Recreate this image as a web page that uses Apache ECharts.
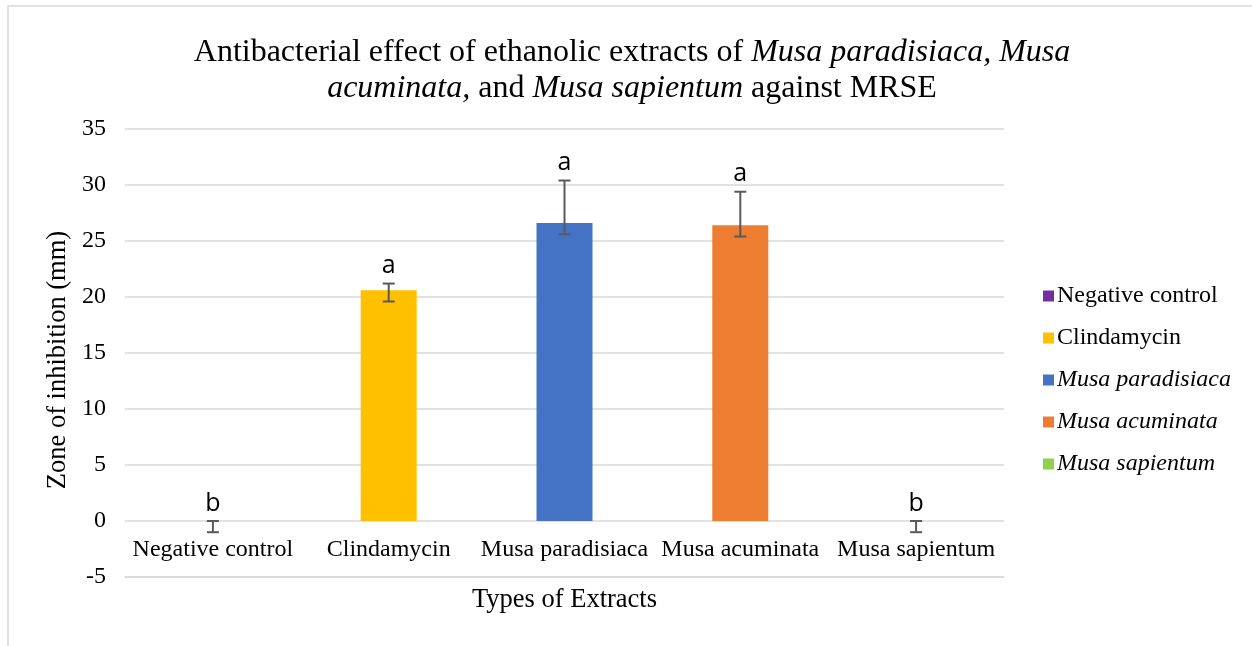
<!DOCTYPE html>
<html>
<head>
<meta charset="utf-8">
<script src="https://cdn.jsdelivr.net/npm/echarts@6/dist/echarts.min.js"></script>
<style>
  html, body { margin: 0; padding: 0; background: #fff; }
  #chart { width: 1252px; height: 646px; }
</style>
</head>
<body>
<div id="chart"></div>
<script>
  // values
  var categories = ['Negative control', 'Clindamycin', 'Musa paradisiaca', 'Musa acuminata', 'Musa sapientum']
  var means = [0, 20.6, 26.6, 26.4, 0]
  var upper = [0, 21.2, 30.4, 29.4, 0]
  var lower = [-1.0, 19.6, 25.6, 25.4, -1.0]
  var letters = ['b', 'a', 'a', 'a', 'b']
  var colors = ['#7030A0', '#FFC000', '#4472C4', '#ED7D31', '#92D050']
  var italicNames = ['Musa paradisiaca', 'Musa acuminata', 'Musa sapientum']

  var serif = '"Liberation Serif", "Times New Roman", serif'
  var sans = '"Open Sans", "Liberation Sans", sans-serif'

  var chart = echarts.init(document.getElementById('chart'))

  var barSeries = categories.map(function (name, i) {
    return {
      name: name,
      type: 'bar',
      barWidth: 56,
      barGap: '-100%',
      itemStyle: { color: colors[i] },
      data: categories.map(function (c, j) { return j === i ? means[j] : null })
    }
  })

  var errorSeries = {
    type: 'custom',
    name: 'error',
    z: 10,
    data: categories.map(function (c, i) { return [i, upper[i], lower[i], letters[i]] }),
    renderItem: function (params, api) {
      var x = api.coord([api.value(0), 0])[0]
      var hi = api.coord([api.value(0), api.value(1)])[1]
      var lo = api.coord([api.value(0), api.value(2)])[1]
      var cap = 6
      var style = { stroke: '#595959', lineWidth: 2 }
      return {
        type: 'group',
        children: [
          { type: 'line', shape: { x1: x, y1: hi, x2: x, y2: lo }, style: style },
          { type: 'line', shape: { x1: x - cap, y1: hi, x2: x + cap, y2: hi }, style: style },
          { type: 'line', shape: { x1: x - cap, y1: lo, x2: x + cap, y2: lo }, style: style },
          {
            type: 'text',
            style: {
              text: api.value(3),
              x: x,
              y: hi - 5,
              align: 'center',
              verticalAlign: 'bottom',
              font: '25px ' + sans,
              fill: '#000'
            }
          }
        ]
      }
    }
  }

  chart.setOption({
    animation: false,
    backgroundColor: '#fff',
    graphic: [
      {
        type: 'rect',
        shape: { x: 8, y: 6, width: 1260, height: 660 },
        style: { fill: 'none', stroke: '#d9d9d9', lineWidth: 1.5 },
        silent: true
      }
    ],
    title: {
      text: 'Antibacterial effect of ethanolic extracts of {i|Musa paradisiaca, Musa}\n{i|acuminata,} and {i|Musa sapientum} against MRSE',
      left: 627,
      textAlign: 'center',
      top: 30,
      textStyle: {
        fontFamily: serif,
        fontSize: 32,
        fontWeight: 'normal',
        color: '#000',
        lineHeight: 36,
        rich: {
          i: { fontFamily: serif, fontSize: 32, fontStyle: 'italic', color: '#000', lineHeight: 36 }
        }
      }
    },
    legend: {
      orient: 'vertical',
      left: 1038,
      top: 279,
      itemWidth: 11,
      itemHeight: 11,
      itemGap: 18,
      icon: 'rect',
      data: categories,
      formatter: function (name) {
        return italicNames.indexOf(name) >= 0 ? '{i|' + name + '}' : name
      },
      textStyle: {
        fontFamily: serif,
        fontSize: 24,
        color: '#000',
        padding: [0, 0, 0, -2],
        rich: {
          i: { fontFamily: serif, fontSize: 24, fontStyle: 'italic', color: '#000' }
        }
      }
    },
    grid: { left: 125, right: 248, top: 129, bottom: 69, outerBoundsMode: 'none', containLabel: false },
    xAxis: {
      type: 'category',
      data: categories,
      name: 'Types of Extracts',
      nameLocation: 'middle',
      nameGap: 10,
      nameTextStyle: { fontFamily: serif, fontSize: 26.5, color: '#000', verticalAlign: 'top' },
      axisLine: { show: true, onZero: false, lineStyle: { color: '#d9d9d9', width: 1.5 } },
      axisTick: { show: false },
      // labels sit just under the zero line, as in the source chart
      axisLabel: { fontFamily: serif, fontSize: 24, color: '#000', margin: -39, interval: 0 },
      splitLine: { show: false }
    },
    yAxis: {
      type: 'value',
      min: -5,
      max: 35,
      interval: 5,
      name: 'Zone of inhibition (mm)',
      nameLocation: 'middle',
      nameGap: 52,
      nameTextStyle: { fontFamily: serif, fontSize: 26.5, color: '#000', padding: [0, 14, 0, 0] },
      axisLine: { show: false },
      axisTick: { show: false },
      axisLabel: { fontFamily: serif, fontSize: 24, color: '#000', margin: 19 },
      splitLine: { lineStyle: { color: '#d9d9d9', width: 1.5 } }
    },
    series: barSeries.concat([errorSeries])
  })
</script>
</body>
</html>
